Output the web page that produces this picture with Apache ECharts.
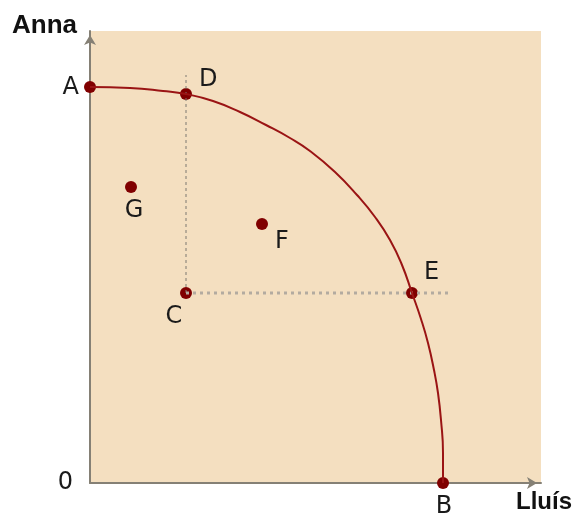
<!DOCTYPE html>
<html>
<head>
<meta charset="utf-8">
<script src="https://cdn.jsdelivr.net/npm/echarts@6/dist/echarts.min.js"></script>
<style>
  html, body { margin: 0; padding: 0; background: #fff; }
  #chart { width: 573px; height: 515px; }
</style>
</head>
<body>
<div id="chart"></div>
<script>
// frontera de possibilitats: valors llegits de la imatge
const xMax = 451;
const yMax = 452;

const pointNames = ['A', 'D', 'G', 'F', 'C', 'E', 'B'];
const pointX = [0, 96, 41, 172, 96, 322, 353];
const pointY = [396, 389, 296, 259, 190, 190, 0];

const curveX = [0, 40, 73, 96, 123, 150, 176, 200, 220, 245, 267, 285, 300, 312, 322, 331, 338, 344, 348, 351, 353, 353];
const curveY = [396, 395, 392, 389, 382, 371, 358, 345, 332, 311, 288, 266, 243, 218, 190, 164, 140, 113, 90, 63, 30, 0];

const vGuideX = [96, 96];
const vGuideY = [190, 408];
const hGuideX = [96, 358];
const hGuideY = [190, 190];

// posicio de cada etiqueta respecte al punt
const labelPos = {
  A: { position: 'left', offset: [0, 1] },
  D: { position: 'right', offset: [2, -14] },
  G: { position: 'bottom', offset: [3, 1] },
  F: { position: 'right', offset: [2, 18] },
  C: { position: 'bottom', offset: [-12, 1] },
  E: { position: 'right', offset: [1, -20] },
  B: { position: 'bottom', offset: [1, 1] }
};

const labelFont = { fontFamily: 'DejaVu Sans', fontSize: 24, color: '#1a1a1a' };

const chart = echarts.init(document.getElementById('chart'));

const pts = pointNames.map((n, i) => ({
  name: n,
  value: [pointX[i], pointY[i]],
  label: Object.assign({ show: true, formatter: n }, labelFont, labelPos[n])
}));

const option = {
  animation: false,
  grid: {
    left: 90, right: 32, top: 31, bottom: 32,
    outerBoundsMode: 'none', containLabel: false,
    show: true, backgroundColor: '#f4dfc0', borderWidth: 0
  },
  xAxis: {
    type: 'value', min: 0, max: xMax,
    name: 'Lluís', nameLocation: 'end', nameGap: -25,
    nameTextStyle: {
      fontFamily: 'Liberation Sans', fontWeight: 'bold', fontSize: 24, color: '#111',
      align: 'left', verticalAlign: 'top', padding: [7, 0, 0, 0]
    },
    axisLine: {
      lineStyle: { color: '#858075', width: 2 },
      symbol: ['none', 'arrow'], symbolSize: [9, 10], symbolOffset: [0, -4]
    },
    axisTick: { show: false },
    axisLabel: { show: false },
    splitLine: { show: false }
  },
  yAxis: {
    type: 'value', min: 0, max: yMax,
    name: 'Anna', nameLocation: 'end', nameGap: 5,
    nameTextStyle: {
      fontFamily: 'Liberation Sans', fontWeight: 'bold', fontSize: 26, color: '#111',
      align: 'right', verticalAlign: 'middle', padding: [0, 13, 0, 0]
    },
    axisLine: {
      lineStyle: { color: '#858075', width: 2 },
      symbol: ['none', 'arrow'], symbolSize: [9, 10], symbolOffset: [0, -4]
    },
    axisTick: { show: false },
    axisLabel: {
      margin: 17, fontFamily: 'DejaVu Sans', fontSize: 24, color: '#1a1a1a',
      verticalAlign: 'middle', padding: [8, 0, 0, 0],
      formatter: v => (v === 0 ? '0' : '')
    },
    splitLine: { show: false }
  },
  series: [
    {
      type: 'line',
      data: vGuideX.map((x, i) => [x, vGuideY[i]]),
      showSymbol: false, silent: true,
      lineStyle: { color: '#7d7870', width: 1, type: [3, 3] }
    },
    {
      type: 'line',
      data: hGuideX.map((x, i) => [x, hGuideY[i]]),
      showSymbol: false, silent: true,
      lineStyle: { color: '#b3aba0', width: 3, type: [3, 4] }
    },
    {
      type: 'line',
      data: curveX.map((x, i) => [x, curveY[i]]),
      smooth: 0.5, showSymbol: false,
      lineStyle: { color: '#9a1414', width: 2 }
    },
    {
      type: 'scatter',
      data: pts,
      symbolSize: 12,
      itemStyle: { color: '#800000', opacity: 1 }
    }
  ]
};

chart.setOption(option);
window.addEventListener('resize', () => chart.resize());
</script>
</body>
</html>
